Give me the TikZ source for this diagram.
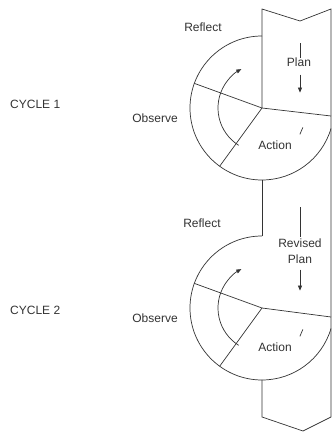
\documentclass[tikz,border=0pt]{standalone}
\usepackage{fontspec}
\setmainfont{Liberation Sans}
\usetikzlibrary{arrows.meta}
\tikzset{
  lbl/.style={inner sep=0pt, font=\fontsize{12}{16}\selectfont, text=black!80},
  ln/.style={draw=black!80, line width=0.7pt},
  arr/.style={ln, -{Triangle[length=5pt,width=4pt]}},
}
\begin{document}
\begin{tikzpicture}[x=1pt,y=1pt]
  \useasboundingbox (0,0) rectangle (332,432);

  \coordinate (tl) at (262,423);
  \coordinate (tn) at (300,411);
  \coordinate (tr) at (331,423);
  \coordinate (bl) at (262,15);
  \coordinate (bn) at (303,1);
  \coordinate (br) at (331,15);

  \coordinate (c1) at (262,324);
  \coordinate (top1) at (262,396);
  \coordinate (bot1) at (262,252);
  \coordinate (rt1) at (331,316);
  \coordinate (c2) at (262,124);
  \coordinate (top2) at (262,196);
  \coordinate (bot2) at (262,52);
  \coordinate (rt2) at (331,115);

  \node[lbl, anchor=west] (cyc1) at (10,328) {CYCLE 1};
  \node[lbl, anchor=west] (cyc2) at (10,122) {CYCLE 2};
  \node[lbl] (refl1) at (203,405) {Reflect};
  \node[lbl] (refl2) at (202,209) {Reflect};
  \node[lbl] (obs1) at (155,314) {Observe};
  \node[lbl] (obs2) at (155,114) {Observe};
  \node[lbl] (act1) at (275,287) {Action};
  \node[lbl] (act2) at (275,85) {Action};
  \node[lbl] (plan) at (299,370) {Plan};
  \node[lbl, align=center] (rplan) at (300,181) {Revised\\Plan};

  \draw[ln] (c1) -- (tl) -- (tn) -- (tr) -- (br) -- (bn) -- (bl) -- (bot2);
  \draw[ln] (bot1) -- (top2);

  \draw[ln] (top1) arc[start angle=90, end angle=343.4, radius=72];
  \draw[ln] (c1) -- ++(160:72);
  \draw[ln] (c1) -- ++(234:72);
  \draw[ln] (c1) -- (rt1);
  \draw[arr] (c1) ++(238:44) arc[start angle=238, end angle=118, radius=44];

  \draw[ln] (top2) arc[start angle=90, end angle=343.4, radius=72];
  \draw[ln] (c2) -- ++(160:72);
  \draw[ln] (c2) -- ++(234:72);
  \draw[ln] (c2) -- (rt2);
  \draw[arr] (c2) ++(238:44) arc[start angle=238, end angle=118, radius=44];

  \draw[ln] (plan.north) ++(1,14) -- ++(0,-15);
  \draw[arr] (plan.south) ++(1,-8) -- ++(0,-18);
  \draw[ln] (rplan.north) ++(0,31) -- ++(0,-30);
  \draw[arr] (rplan.south) ++(0,-6) -- ++(0,-21);

  \draw[ln] (act1.north east) ++(8,6) -- ++(3,7);
  \draw[ln] (act2.north east) ++(8,6) -- ++(3,7);
\end{tikzpicture}
\end{document}
